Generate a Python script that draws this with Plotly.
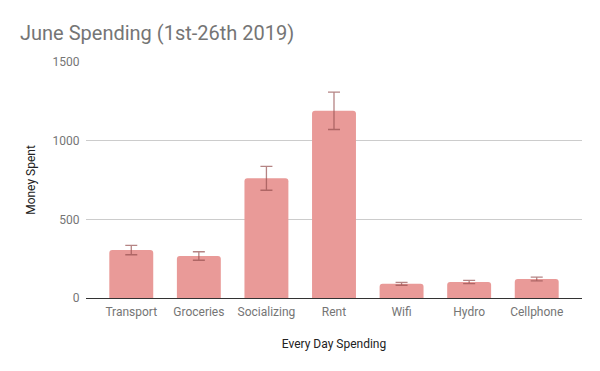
import plotly.graph_objects as go

categories = ["Transport", "Groceries", "Socializing", "Rent", "Wifi", "Hydro", "Cellphone"]
spent = [305, 267, 761, 1190, 90, 102, 121]
error = [30, 27, 76, 119, 9, 10, 12]
y_ticks = [0, 500, 1000, 1500]

fig = go.Figure()
fig.add_trace(go.Bar(
    x=categories,
    y=spent,
    marker=dict(color="#e99a98", cornerradius=3, line=dict(width=0)),
    error_y=dict(type="data", array=error, visible=True,
                 color="rgba(150,80,80,0.7)", thickness=1.3, width=6),
    hoverinfo="skip",
))

fig.update_layout(
    width=600, height=371,
    margin=dict(l=86, r=18, t=62, b=73, autoexpand=False),
    paper_bgcolor="white", plot_bgcolor="white",
    font=dict(family="Roboto", size=12, color="#757575"),
    title=dict(text="June Spending (1st-26th 2019)", x=20/600, xanchor="left", xref="container",
               y=1 - 33/371, yanchor="middle", yref="container", automargin=False,
               font=dict(family="Roboto", size=20, color="#757575")),
    bargap=0.35,
    showlegend=False,
    xaxis=dict(
        range=[-0.67, 6.67], automargin=False,
        showline=True, linecolor="#333333", linewidth=1.3,
        showgrid=False, ticks="outside", ticklen=2, tickcolor="rgba(0,0,0,0)",
        tickfont=dict(size=12, color="#757575"),
        title=dict(text="Every Day Spending", standoff=22,
                   font=dict(size=12, color="#222222")),
    ),
    yaxis=dict(
        range=[0, 1500], automargin=False,
        tickvals=y_ticks,
        showgrid=True, gridcolor="#cccccc", gridwidth=1,
        zeroline=False, showline=False,
        ticks="outside", ticklen=3, tickcolor="rgba(0,0,0,0)",
        tickfont=dict(size=12, color="#757575"),
        title=dict(text="Money Spent", standoff=14,
                   font=dict(size=12, color="#222222")),
    ),
)

fig.write_html("out.html", config={"displayModeBar": False},
               post_script="document.body.style.margin='0';")
